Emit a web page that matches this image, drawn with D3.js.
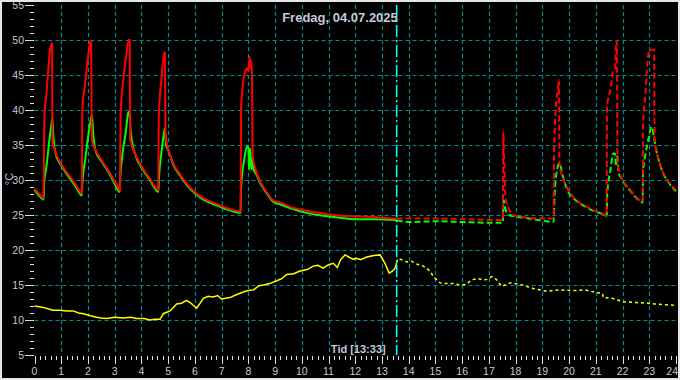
<!DOCTYPE html>
<html><head><meta charset="utf-8">
<script src="https://cdn.jsdelivr.net/npm/d3@7"></script>
<style>html,body{margin:0;padding:0;background:#000;}svg{display:block;}</style>
</head><body><svg id="c" width="680" height="380"></svg>
<script>
const title = "Fredag, 04.07.2025";
const cursorHour = 13.55;
const cursorLabel = "Tid [13:33]";
const yLabel = "°C";
const xTickValues = d3.range(0, 25, 1);
const yTickValues = d3.range(5, 56, 5);

const redT = [0.0,0.3,0.33,0.35,0.37,0.45,0.52,0.58,0.64,0.66,0.67,0.8,0.95,1.15,1.33,1.55,1.77,1.79,1.9,2.0,2.1,2.12,2.14,2.3,2.5,2.82,3.0,3.18,3.2,3.22,3.3,3.42,3.52,3.56,3.58,3.8,4.0,4.3,4.63,4.65,4.75,4.86,4.88,4.9,5.0,5.19,5.45,5.69,6.0,6.32,6.6,6.94,7.2,7.44,7.71,7.73,7.85,7.95,8.0,8.05,8.08,8.12,8.14,8.16,8.3,8.44,8.6,8.93,9.2,9.56,10.18,10.8,11.43,12.05,12.67,13.49,13.55,
  14.0,15.0,16.0,17.0,17.52,17.54,17.58,17.62,17.75,17.9,18.5,19.0,19.42,19.44,19.5,19.58,19.62,19.64,19.8,19.91,20.28,20.6,20.9,21.2,21.4,21.42,21.55,21.65,21.72,21.76,21.79,21.81,21.9,22.03,22.28,22.65,22.75,22.77,22.85,22.93,23.0,23.18,23.2,23.4,23.77,24.0];
const redV = [28.8,27.5,27.4,31.5,39.0,42.5,46.0,48.5,49.5,49.5,35.5,33.8,32.6,31.4,30.5,29.3,28.1,40.0,44.0,47.5,49.9,49.9,35.8,34.2,32.9,31.0,29.8,28.6,28.5,39.5,43.5,47.5,50.0,50.0,35.8,33.5,32.0,30.3,28.6,39.0,44.5,48.2,48.2,36.5,34.5,32.4,30.8,29.5,28.3,27.4,26.9,26.4,26.0,25.7,25.5,40.5,45.0,46.0,45.5,47.6,46.0,47.0,44.0,33.5,31.2,29.8,28.8,27.1,26.8,26.2,25.6,25.2,24.9,24.8,24.7,24.5,24.5,
  24.5,24.5,24.4,24.3,24.3,36.9,31.5,27.6,25.8,25.0,24.6,24.5,24.5,34.0,40.0,43.0,44.3,32.4,30.0,29.0,27.1,26.3,25.7,25.3,25.0,40.5,43.0,45.7,46.0,49.8,49.8,32.4,31.0,29.8,28.6,27.1,26.9,38.1,42.0,46.7,48.6,48.6,35.7,32.4,29.5,28.6];

const greenT = [0.0,0.3,0.34,0.36,0.45,0.55,0.62,0.67,0.7,0.8,0.95,1.15,1.33,1.55,1.77,1.79,1.9,2.0,2.1,2.15,2.2,2.3,2.5,2.82,3.0,3.18,3.21,3.3,3.42,3.5,3.55,3.6,3.8,4.0,4.3,4.63,4.66,4.75,4.85,4.88,4.92,5.0,5.19,5.45,5.69,6.0,6.32,6.6,6.94,7.2,7.44,7.71,7.73,7.85,7.95,8.0,8.03,8.07,8.12,8.16,8.2,8.3,8.44,8.6,8.93,9.2,9.56,10.18,10.8,11.43,12.05,12.67,13.49,13.55,
  14.0,15.0,16.0,17.0,17.52,17.55,17.62,17.75,18.0,18.5,19.0,19.42,19.45,19.55,19.64,19.75,19.91,20.28,20.6,20.9,21.2,21.41,21.43,21.55,21.65,21.72,21.76,21.8,21.85,21.95,22.03,22.28,22.65,22.75,22.77,22.85,22.95,23.05,23.1,23.18,23.25,23.4,23.77,24.0];
const greenV = [28.6,27.3,27.2,29.5,32.0,35.5,37.5,38.8,36.5,33.6,32.4,31.2,30.2,29.0,27.8,29.5,33.0,36.0,38.5,39.3,36.5,34.0,32.7,30.8,29.5,28.3,30.5,34.0,37.0,39.5,39.8,36.8,33.3,31.8,30.1,28.3,30.5,34.0,36.8,37.4,35.0,34.3,32.2,30.6,29.3,28.1,27.2,26.7,26.2,25.8,25.5,25.3,29.0,33.0,34.8,34.6,31.5,34.5,31.5,33.0,31.5,30.8,29.6,28.6,26.9,26.5,26.0,25.3,24.9,24.6,24.4,24.4,24.3,24.2,
  24.0,24.1,24.0,23.9,23.9,27.1,25.8,25.0,24.8,24.5,24.2,24.0,27.0,31.5,32.4,30.8,28.8,27.0,26.2,25.6,25.2,24.9,28.1,31.5,33.8,33.8,32.0,33.5,31.0,30.3,29.7,28.5,27.0,26.8,31.4,33.5,35.5,37.3,37.6,36.0,34.5,32.2,29.4,28.4];

const yellowT = [0.0,0.33,0.5,0.7,0.95,1.2,1.45,1.65,1.83,2.1,2.33,2.5,2.7,3.0,3.32,3.6,3.82,4.1,4.32,4.5,4.7,4.82,5.07,5.32,5.5,5.69,5.85,5.94,6.07,6.32,6.5,6.69,6.85,7.0,7.31,7.55,7.81,8.0,8.19,8.4,8.56,8.8,9.06,9.25,9.43,9.7,9.93,10.2,10.43,10.6,10.8,11.0,11.18,11.33,11.45,11.62,11.8,11.93,12.05,12.2,12.43,12.7,12.93,13.11,13.27,13.4,13.49,13.55,
  13.61,13.92,14.1,14.3,14.5,14.67,14.8,14.92,15.17,15.4,15.67,15.9,16.17,16.3,16.42,16.6,16.8,16.92,17.1,17.23,17.48,17.79,18.16,18.4,18.66,19.16,19.6,20.16,20.6,21.03,21.25,21.28,21.6,22.03,22.5,22.9,23.2,23.52,24.0];
const yellowV = [12.0,11.8,11.6,11.4,11.4,11.3,11.3,11.0,10.9,10.6,10.4,10.3,10.2,10.4,10.3,10.4,10.2,10.2,10.0,10.1,10.1,10.9,11.3,12.3,12.4,12.8,12.4,12.1,11.7,13.1,13.4,13.3,13.5,13.0,13.2,13.6,14.0,14.2,14.3,14.9,15.0,15.2,15.6,15.9,16.5,16.6,17.0,17.2,17.7,17.8,17.4,17.9,18.1,17.5,18.6,19.3,18.9,18.7,18.8,18.6,19.0,19.2,19.3,18.1,16.7,17.0,17.4,18.2,
  18.8,18.3,18.4,18.0,17.8,17.4,17.0,16.2,15.3,15.2,15.2,15.0,15.1,15.6,15.8,15.9,15.7,15.8,16.2,16.0,14.8,15.3,15.1,14.8,14.5,14.1,14.3,14.2,14.3,13.9,13.8,13.2,13.1,12.6,12.5,12.4,12.3,12.2,12.1];

const svg = d3.select("#c");
const W = 680, H = 380;
const x = d3.scaleLinear().domain([0, 24]).range([34.5, 676]);
const y = d3.scaleLinear().domain([5, 55]).range([355, 5]);
const txt = "#c4cad6";
const font = "'Liberation Sans', Arial, sans-serif";

svg.append("rect").attr("x", 0).attr("y", 0).attr("width", W).attr("height", H).attr("fill", "#000");

// grid
const grid = svg.append("g").attr("stroke", "#008c8c").attr("stroke-width", 1.2).attr("stroke-dasharray", "4,3");
grid.selectAll("line.h").data(d3.range(10, 51, 5)).join("line")
  .attr("x1", x(0)).attr("x2", x(24)).attr("y1", d => Math.round(y(d)) + 0.5).attr("y2", d => Math.round(y(d)) + 0.5);
grid.selectAll("line.v").data(d3.range(1, 24, 1)).join("line")
  .attr("y1", y(55)).attr("y2", y(5)).attr("x1", d => Math.round(x(d)) + 0.5).attr("x2", d => Math.round(x(d)) + 0.5);

// x axis ticks
const xAx = svg.append("g").attr("stroke", "#e0e0e0").attr("stroke-width", 1);
xAx.selectAll("line.mn").data(d3.range(0, 24.01, 0.2)).join("line")
  .attr("x1", d => Math.round(x(d)) + 0.5).attr("x2", d => Math.round(x(d)) + 0.5)
  .attr("y1", 356).attr("y2", d => Math.abs(d - Math.round(d)) < 1e-6 ? 364 : 360);
svg.append("g").selectAll("text").data(xTickValues).join("text")
  .attr("x", d => d === 24 ? 678 : x(d)).attr("y", 375).attr("text-anchor", d => d === 24 ? "end" : "middle")
  .attr("fill", txt).attr("font-family", font).attr("font-size", 10.5).text(d => d);

// y axis ticks
const yAx = svg.append("g").attr("stroke", "#e0e0e0").attr("stroke-width", 1);
yAx.selectAll("line").data(d3.range(5, 55.01, 1)).join("line")
  .attr("y1", d => Math.round(y(d)) + 0.5).attr("y2", d => Math.round(y(d)) + 0.5)
  .attr("x2", 34).attr("x1", d => d % 5 === 0 ? 25 : 30);
svg.append("g").selectAll("text").data(yTickValues).join("text")
  .attr("x", 24).attr("y", d => y(d) + 4).attr("text-anchor", "end")
  .attr("fill", txt).attr("font-family", font).attr("font-size", 10.5).text(d => d);

svg.append("text").attr("transform", "translate(13,179) rotate(-90)").attr("text-anchor", "middle")
  .attr("fill", txt).attr("font-family", font).attr("font-size", 11).text(yLabel);

// series
function split(T, V) {
  const a = [], b = [];
  T.forEach((t, i) => { if (t <= cursorHour) a.push([t, V[i]]); if (t >= cursorHour) b.push([t, V[i]]); });
  return [a, b];
}
const line = d3.line().x(d => x(d[0])).y(d => y(d[1])).curve(d3.curveMonotoneX);
const yline = d3.line().x(d => x(d[0])).y(d => y(d[1]));
const plot = svg.append("g").attr("fill", "none").attr("stroke-linejoin", "miter");

const [ys, yd] = split(yellowT, yellowV);
plot.append("path").attr("d", yline(ys)).attr("stroke", "#ffff00").attr("stroke-width", 1.5);
plot.append("path").attr("d", yline(yd)).attr("stroke", "#ffff00").attr("stroke-width", 1.5).attr("stroke-dasharray", "3,3");

const [gs, gd] = split(greenT, greenV);
const [rs, rd] = split(redT, redV);
plot.append("path").attr("d", line(gs)).attr("stroke", "#00ff00").attr("stroke-width", 2);
plot.append("path").attr("d", line(rs)).attr("stroke", "#ff0000").attr("stroke-width", 2);
plot.append("path").attr("d", line(gd)).attr("stroke", "#00ff00").attr("stroke-width", 2).attr("stroke-dasharray", "6,3");
plot.append("path").attr("d", line(rd)).attr("stroke", "#ff0000").attr("stroke-width", 2).attr("stroke-dasharray", "6,3");

// cursor
svg.append("line").attr("x1", x(cursorHour)).attr("x2", x(cursorHour)).attr("y1", y(55)).attr("y2", y(5))
  .attr("stroke", "#00ffff").attr("stroke-width", 1.6).attr("stroke-dasharray", "12,3,2,3");
svg.append("text").attr("x", x(cursorHour) - 11).attr("y", 353).attr("text-anchor", "end")
  .attr("fill", txt).attr("font-family", font).attr("font-size", 11).attr("font-weight", "bold").text(cursorLabel);

svg.append("text").attr("x", 340).attr("y", 22).attr("text-anchor", "middle")
  .attr("fill", txt).attr("font-family", font).attr("font-size", 13).attr("font-weight", "bold").text(title);

// frame
svg.append("rect").attr("x", 1).attr("y", 1).attr("width", W - 2).attr("height", H - 2)
  .attr("fill", "none").attr("stroke", "#e6e6e6").attr("stroke-width", 2);
</script></body></html>
